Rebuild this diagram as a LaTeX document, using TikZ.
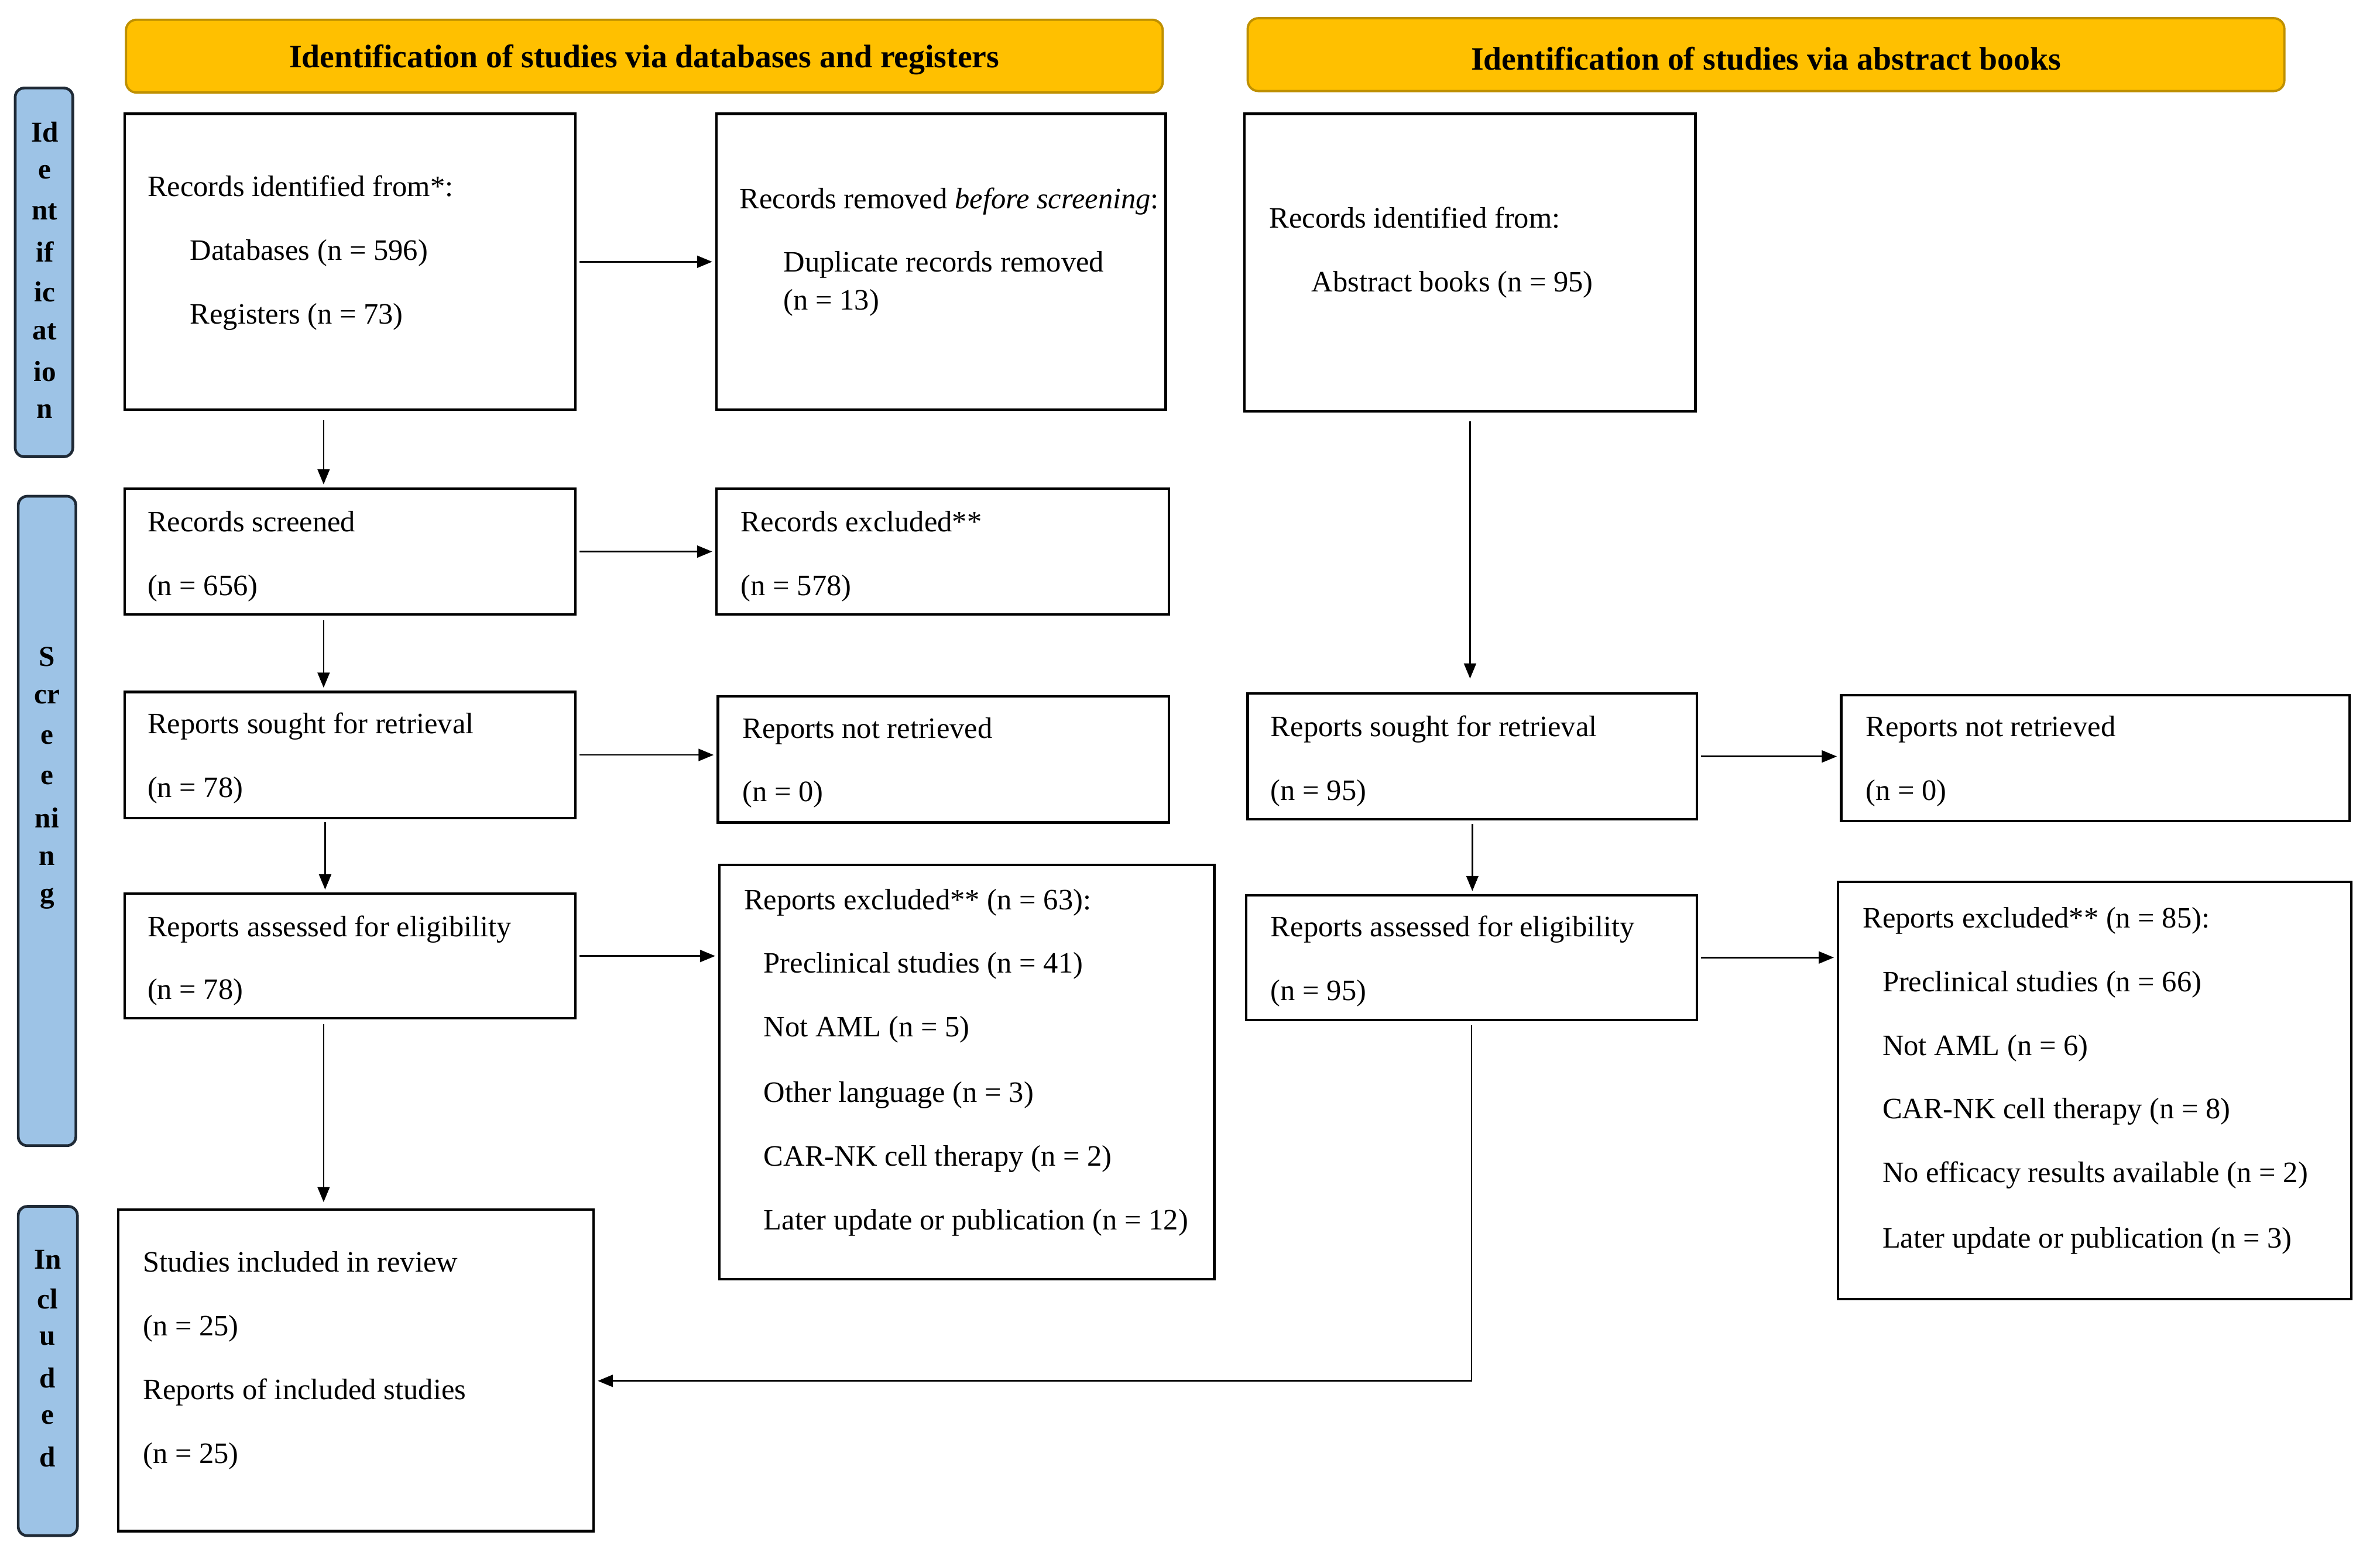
\documentclass[tikz,border=0pt]{standalone}
\usepackage{fontspec}
\setmainfont{Liberation Serif}
\usetikzlibrary{arrows.meta,calc,fit}
\definecolor{hdrfill}{HTML}{FFC000}
\definecolor{hdrline}{HTML}{BF9000}
\definecolor{sidefill}{HTML}{9DC3E6}
\definecolor{sideline}{HTML}{1F2A36}
\begin{document}
\begin{tikzpicture}[x=1pt,y=-1pt,
  box/.style={draw=black, line width=1.6pt, fill=white, inner sep=0pt},
  hdr/.style={draw=hdrline, fill=hdrfill, line width=1.5pt, rounded corners=7pt, inner sep=0pt},
  side/.style={draw=sideline, fill=sidefill, line width=1.8pt, rounded corners=6pt, inner sep=0pt},
  lbl/.style={anchor=mid west, inner sep=0pt, yshift=-4pt, font=\fontsize{19.5}{22}\selectfont},
  hdrtxt/.style={inner sep=0pt, yshift=-2.5pt, font=\fontsize{21.5}{24}\selectfont\bfseries},
  sidetxt/.style={inner sep=0pt, font=\fontsize{19}{22}\selectfont\bfseries},
  arr/.style={line width=1pt, -{Triangle[length=10pt,width=8pt]}, shorten >=2pt, shorten <=2pt}
]
\useasboundingbox (0,0) rectangle (1568,1025.4);

% headers
\node[hdr, fit={(83,13) (766,61)}] (H1) {};
\node[hdrtxt] (H1t) at (H1.center) {Identification of studies via databases and registers};
\node[hdr, fit={(822,12) (1505,60)}] (H2) {};
\node[hdrtxt] (H2t) at (H2.center) {Identification of studies via abstract books};

% side labels
\node[side, fit={(10,58) (48,301)}] (S1) {};
\foreach \t [count=\i] in {Id,e,nt,if,ic,at,io,n}
  \node[sidetxt] (s1-\i) at (29.5,{87+26.3*(\i-1)}) {\t};
\node[side, fit={(12,327) (50,755)}] (S2) {};
\foreach \t [count=\i] in {S,cr,e,e,ni,n,g}
  \node[sidetxt] (s2-\i) at (31,{433+26.5*(\i-1)}) {\t};
\node[side, fit={(12,795) (51,1012)}] (S3) {};
\foreach \t [count=\i] in {In,cl,u,d,e,d}
  \node[sidetxt] (s3-\i) at (31.5,{830+26*(\i-1)}) {\t};

% boxes
\node[box, fit={(82,75) (379,270)}] (A) {};
\node[box, fit={(472,75) (768,270)}] (B) {};
\node[box, fit={(820,75) (1117,271)}] (C) {};
\node[box, fit={(82,322) (379,405)}] (D) {};
\node[box, fit={(472,322) (770,405)}] (E) {};
\node[box, fit={(82,456) (379,539)}] (F) {};
\node[box, fit={(473,459) (770,542)}] (G) {};
\node[box, fit={(82,589) (379,671)}] (H) {};
\node[box, fit={(474,570) (800,843)}] (I) {};
\node[box, fit={(78,797) (391,1009)}] (J) {};
\node[box, fit={(822,457) (1118,540)}] (K) {};
\node[box, fit={(1213,458) (1548,541)}] (L) {};
\node[box, fit={(821,590) (1118,672)}] (M) {};
\node[box, fit={(1211,581) (1549,856)}] (N) {};

% texts
\node[lbl] (tA1) at (97,123) {Records identified from*:};
\node[lbl] (tA2) at (125,165) {Databases (n = 596)};
\node[lbl] (tA3) at (125,207) {Registers (n = 73)};
\node[lbl] (tB1) at (487,131) {Records removed \textit{before screening}:};
\node[lbl] (tB2) at (516,173) {Duplicate records removed};
\node[lbl] (tB3) at (516,198) {(n = 13)};
\node[lbl] (tC1) at (836,144) {Records identified from:};
\node[lbl] (tC2) at (864,186) {Abstract books (n = 95)};
\node[lbl] (tD1) at (97,344) {Records screened};
\node[lbl] (tD2) at (97,386) {(n = 656)};
\node[lbl] (tE1) at (488,344) {Records excluded**};
\node[lbl] (tE2) at (488,386) {(n = 578)};
\node[lbl] (tF1) at (97,477) {Reports sought for retrieval};
\node[lbl] (tF2) at (97,519) {(n = 78)};
\node[lbl] (tG1) at (489,480) {Reports not retrieved};
\node[lbl] (tG2) at (489,522) {(n = 0)};
\node[lbl] (tH1) at (97,611) {Reports assessed for eligibility};
\node[lbl] (tH2) at (97,652) {(n = 78)};
\node[lbl] (tI1) at (490,593) {Reports excluded** (n = 63):};
\node[lbl] (tI2) at (503,635) {Preclinical studies (n = 41)};
\node[lbl] (tI3) at (503,677) {Not AML (n = 5)};
\node[lbl] (tI4) at (503,720) {Other language (n = 3)};
\node[lbl] (tI5) at (503,762) {CAR-NK cell therapy (n = 2)};
\node[lbl] (tI6) at (503,804) {Later update or publication (n = 12)};
\node[lbl] (tJ1) at (94,832) {Studies included in review};
\node[lbl] (tJ2) at (94,874) {(n = 25)};
\node[lbl] (tJ3) at (94,916) {Reports of included studies};
\node[lbl] (tJ4) at (94,958) {(n = 25)};
\node[lbl] (tK1) at (837,479) {Reports sought for retrieval};
\node[lbl] (tK2) at (837,521) {(n = 95)};
\node[lbl] (tL1) at (1229,479) {Reports not retrieved};
\node[lbl] (tL2) at (1229,521) {(n = 0)};
\node[lbl] (tM1) at (837,611) {Reports assessed for eligibility};
\node[lbl] (tM2) at (837,653) {(n = 95)};
\node[lbl] (tN1) at (1227,605) {Reports excluded** (n = 85):};
\node[lbl] (tN2) at (1240,647) {Preclinical studies (n = 66)};
\node[lbl] (tN3) at (1240,689) {Not AML (n = 6)};
\node[lbl] (tN4) at (1240,731) {CAR-NK cell therapy (n = 8)};
\node[lbl] (tN5) at (1240,773) {No efficacy results available (n = 2)};
\node[lbl] (tN6) at (1240,816) {Later update or publication (n = 3)};

% connectors
\coordinate (ad) at ($(A.south west)+(132,0)$);
\coordinate (df) at ($(D.south west)+(132,0)$);
\coordinate (fh) at ($(F.south west)+(133,0)$);
\coordinate (hj) at ($(H.south west)+(132,0)$);
\coordinate (jin) at ($(J.east)+(0,7)$);
\draw[arr] (A.east) -- (A.east -| B.west);
\draw[arr] (D.east) -- (D.east -| E.west);
\draw[arr] (F.east) -- (F.east -| G.west);
\draw[arr] (H.east) -- (H.east -| I.west);
\draw[arr] (K.east) -- (K.east -| L.west);
\draw[arr] (M.east) -- (M.east -| N.west);
\draw[arr, shorten <=6pt] (ad) -- (ad |- D.north);
\draw[arr, shorten <=3pt] (df) -- (df |- F.north);
\draw[arr] (fh) -- (fh |- H.north);
\draw[arr, shorten <=3pt, shorten >=4pt] (hj) -- (hj |- J.north);
\draw[arr, shorten <=6pt, shorten >=9pt] (C.south) -- (C.south |- K.north);
\draw[arr] (K.south) -- (K.south |- M.north);
\draw[arr, shorten <=3pt] (M.south) -- (M.south |- jin) -- (jin);
\end{tikzpicture}
\end{document}
